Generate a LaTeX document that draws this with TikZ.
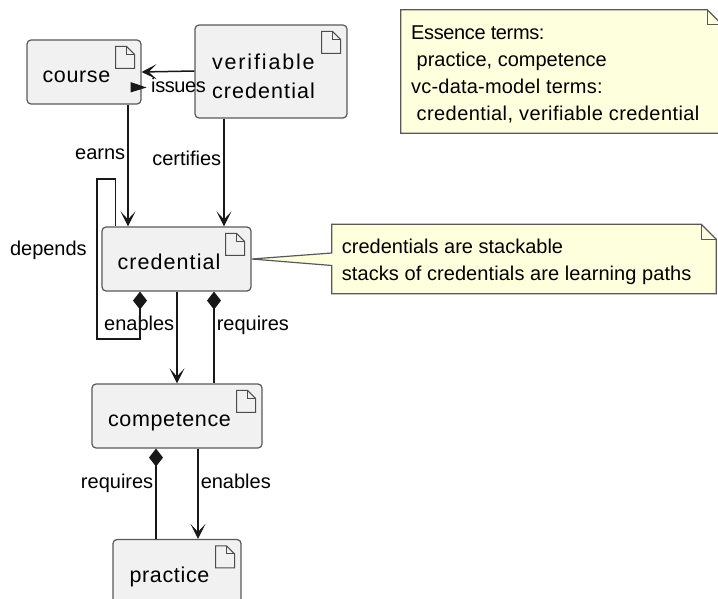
\documentclass[tikz,border=0pt]{standalone}
\usepackage{fontspec}
\usetikzlibrary{arrows.meta,calc}
\setmainfont{Liberation Sans}
\newfontfamily\entfont[LetterSpace=3]{Liberation Sans}
\newcommand{\spc}[1]{\addfontfeature{LetterSpace=#1}}
\definecolor{entfill}{HTML}{F1F1F1}
\definecolor{notefill}{HTML}{FEFFDD}
\definecolor{edgeink}{HTML}{181818}

\tikzset{
	entbox/.style={draw=black!65, line width=1.2pt, fill=entfill, rounded corners=4pt, inner sep=0pt},
	enttext/.style={xshift=-7.5pt, font=\entfont\fontsize{21.5}{29}\selectfont, align=left, inner sep=0pt, text height=21pt, text depth=0pt},
	docline/.style={draw=black!70, line width=1pt},
	notearea/.style={inner sep=0pt},
	noteline/.style={draw=black!65, line width=1.2pt, fill=notefill},
	notetext/.style={font=\fontsize{20}{27}\selectfont, align=left, inner sep=0pt, anchor=west},
	lnk/.style={draw=edgeink, line width=1.5pt},
	opn/.style={lnk, -{Stealth[length=15pt,width=15pt,inset=8pt]}},
	dia/.style={lnk, {Diamond[length=18pt,width=14pt]}-},
	lbl/.style={font=\fontsize{20}{24}\selectfont, inner sep=2pt, text height=14.5pt, text depth=4.5pt, text=black},
}

\begin{document}
\begin{tikzpicture}[x=1pt,y=-1pt]
	
	\useasboundingbox (0,0) rectangle (718,599);
	\clip (0,0) rectangle (718,599);
	
	% Draw entities.
	\node[entbox, minimum width=114pt, minimum height=64pt, label={[enttext]center:course}] (course) at (84,72) {};
	\node[entbox, minimum width=152pt, minimum height=93pt, label={[enttext, yshift=-14.5pt, text height=36pt, text depth=11pt]center:{\spc{8.6}verifiable}\\{\spc{5}credential}}] (verifiable) at (271,71.5) {};
	\node[entbox, minimum width=149pt, minimum height=64pt, label={[enttext]center:\spc{5}credential}] (credential) at (176.5,259) {};
	\node[entbox, minimum width=170pt, minimum height=64pt, label={[enttext]center:competence}] (competence) at (177,416) {};
	\node[entbox, minimum width=128pt, minimum height=64pt, label={[enttext]center:practice}] (practice) at (177,571.5) {};
	
	% Draw document icons.
	\foreach \n in {course,verifiable,credential,competence,practice} {
		\draw[docline] ([shift={(-26,7)}]\n.north east) -- ([shift={(-15,7)}]\n.north east) -- ([shift={(-7,15)}]\n.north east)
			-- ([shift={(-7,29)}]\n.north east) -- ([shift={(-26,29)}]\n.north east) -- cycle;
		\draw[docline] ([shift={(-15,7)}]\n.north east) |- ([shift={(-7,15)}]\n.north east);
	}
	
	% Draw links.
	\draw[opn] ([yshift=0.5pt]verifiable.west) -- ([yshift=0pt]course.east);
	\fill[edgeink] (130.5,82) -- (146.5,87.5) -- (130.5,92.5) -- cycle;
	\node[lbl, anchor=west] (issues) at (149,88) {\spc{-2}issues};
	\draw[opn] ([xshift=44pt]course.south) -- ([xshift=-48.5pt]credential.north) node[lbl, pos=.41, left] {earns};
	\draw[opn] ([xshift=-47pt]verifiable.south) -- ([xshift=47.5pt]credential.north) node[lbl, pos=.39, left] {certifies};
	\draw[opn] ([xshift=0.5pt]credential.south) -- (competence.north) node[lbl, pos=.37, left] {enables};
	\draw[dia] ([xshift=37.5pt]credential.south) -- ([xshift=37pt]competence.north) node[lbl, pos=.37, right] {requires};
	\draw[dia] ([xshift=-21pt]competence.south) -- ([xshift=-21pt]practice.north) node[lbl, pos=.385, left] {requires};
	\draw[opn] ([xshift=21pt]competence.south) -- ([xshift=21pt]practice.north) node[lbl, pos=.385, right] {enables};
	
	% Self loop on credential.
	\coordinate (looptop) at (97,179);
	\coordinate (loopbot) at (97,339);
	\draw[dia] ([xshift=-36.5pt]credential.south) |- (loopbot) -- (looptop) node[lbl, pos=.55, left, xshift=-7.5pt] {depends} -| ([xshift=-61pt]credential.north);
	
	% Draw notes.
	\node[notearea, minimum width=321pt, minimum height=123pt] (termnote) at (561.5,71.5) {};
	\draw[noteline] (termnote.north west) -- ([shift={(-15,0)}]termnote.north east) -- ([shift={(0,15)}]termnote.north east)
		-- (termnote.south east) -- (termnote.south west) -- cycle;
	\draw[noteline, fill=none] ([shift={(-15,0)}]termnote.north east) |- ([shift={(0,15)}]termnote.north east);
	\node[notetext] (termtext) at (411,74.5) {{\spc{-1.9}Essence terms:}\\\hspace*{5.5pt}practice, competence\\{\spc{1}vc-data-model terms:}\\\hspace*{5.5pt}{\spc{2.1}credential, verifiable credential}};
	
	\node[notearea, minimum width=384pt, minimum height=69pt] (stacknote) at (524,259) {};
	\draw[noteline] (stacknote.north west) -- ([shift={(-15,0)}]stacknote.north east) -- ([shift={(0,15)}]stacknote.north east)
		-- (stacknote.south east) -- (stacknote.south west) -- ([shift={(0,6.5)}]stacknote.west) -- (credential.east) -- ([shift={(0,-6)}]stacknote.west) -- cycle;
	\draw[noteline, fill=none] ([shift={(-15,0)}]stacknote.north east) |- ([shift={(0,15)}]stacknote.north east);
	\node[notetext] (stacktext) at (341.7,262) {credentials are stackable\\{\spc{0.4}stacks of credentials are learning paths}};
	
\end{tikzpicture}
\end{document}
